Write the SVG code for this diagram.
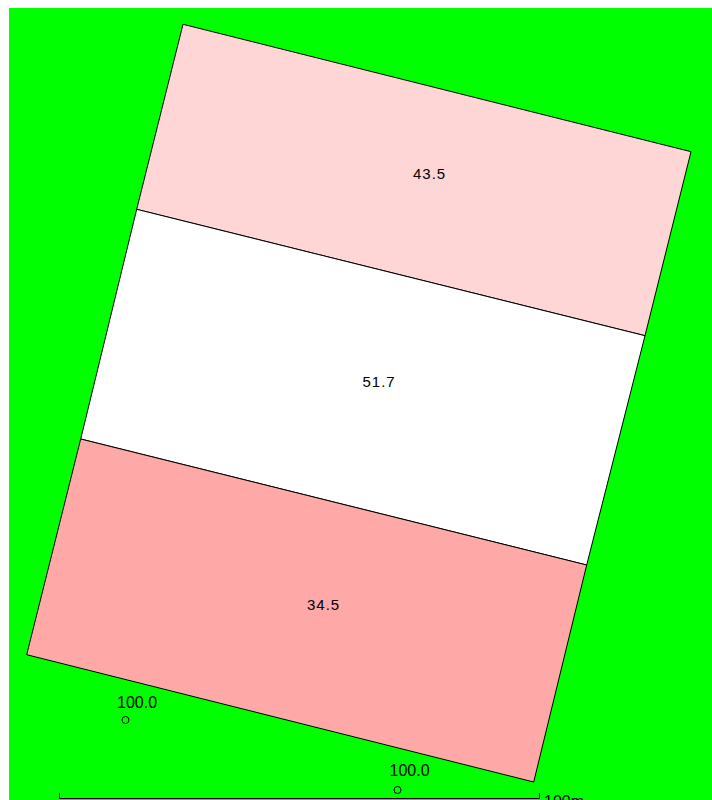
<svg xmlns="http://www.w3.org/2000/svg" width="712" height="800" viewBox="0 0 712 800">
<style>
.plot{stroke:#000;stroke-width:1;stroke-linejoin:miter}
.lbl{font-family:"Liberation Sans",Arial,sans-serif;font-size:15px;fill:#000;letter-spacing:1px}
.pt{font-family:"Liberation Sans",Arial,sans-serif;font-size:16px;fill:#000}
.mk{fill:none;stroke:#000;stroke-width:1}
</style>
<rect x="0" y="0" width="712" height="800" fill="#fff"/>
<rect x="9" y="8" width="703" height="792" fill="#00ff00"/>
<g id="plot-top">
<polygon class="plot" fill="#ffd6d6" points="183,24.3 691,151.7 645,335.7 136.7,209.3"/>
<text class="lbl" x="413" y="178.5">43.5</text>
</g>
<g id="plot-middle">
<polygon class="plot" fill="#ffffff" points="136.7,209.3 645,335.7 586.7,565 80.7,439"/>
<text class="lbl" x="362.5" y="387">51.7</text>
</g>
<g id="plot-bottom">
<polygon class="plot" fill="#ffa8a8" points="80.7,439 586.7,565 533.7,782 26.7,654.7"/>
<text class="lbl" x="307" y="609.5">34.5</text>
</g>
<g id="point-1">
<circle class="mk" cx="125.5" cy="720" r="3.5"/>
<text class="pt" x="117" y="708">100.0</text>
</g>
<g id="point-2">
<circle class="mk" cx="397.5" cy="790" r="3.5"/>
<text class="pt" x="389.5" y="776">100.0</text>
</g>
<g id="scale">
<path class="mk" d="M59.5,793 V798.5 H539.5 M539.5,793 V798.5"/>
<text class="pt" x="544" y="807">100m</text>
</g>
</svg>
